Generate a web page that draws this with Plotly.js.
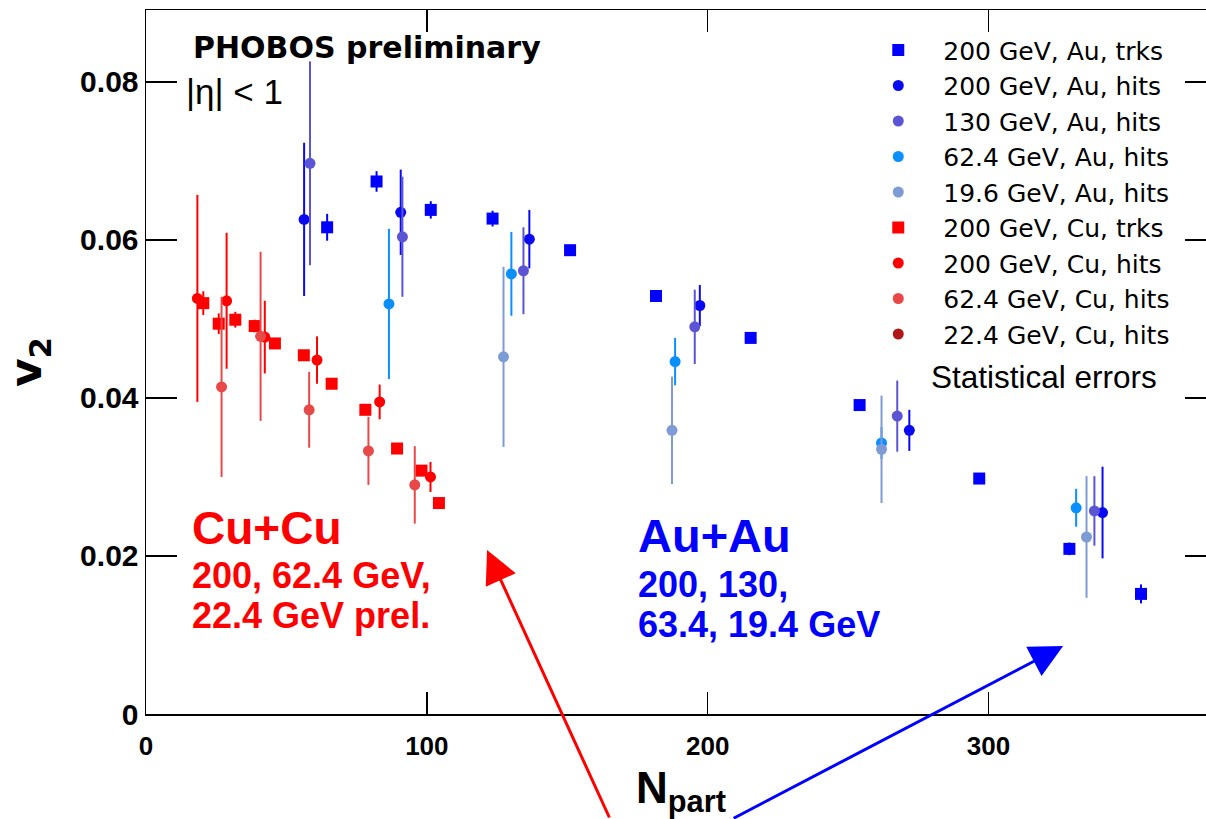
<!DOCTYPE html>
<html>
<head>
<meta charset="utf-8">
<script src="https://cdn.plot.ly/plotly-3.0.1.min.js"></script>
<style>
html,body{margin:0;padding:0;overflow:hidden;background:#fff;}
#chart{width:1220px;height:819px;}
</style>
</head>
<body>
<div id="chart"></div>
<script>
// ---- data ----
const seriesNames = ["200 GeV, Au, trks","200 GeV, Au, hits","130 GeV, Au, hits","62.4 GeV, Au, hits","19.6 GeV, Au, hits","200 GeV, Cu, trks","200 GeV, Cu, hits","62.4 GeV, Cu, hits","22.4 GeV, Cu, hits"];

const auTrksX = [64.5, 82.1, 101.4, 123.4, 151.0, 181.6, 215.3, 254.1, 296.7, 328.8, 354.3];
const auTrksY = [0.0616, 0.0674, 0.0638, 0.0627, 0.0587, 0.0529, 0.0476, 0.0391, 0.0298, 0.0209, 0.0152];
const auTrksE = [0.0017, 0.0013, 0.0011, 0.0010, 0.0005, 0.0004, 0.0004, 0.0004, 0.0005, 0.0008, 0.0012];

const au200HitsX = [56.3, 90.7, 136.5, 197.2, 271.8, 340.6];
const au200HitsY = [0.0626, 0.0635, 0.0601, 0.0517, 0.0359, 0.0255];
const au200HitsE = [0.0097, 0.0054, 0.0037, 0.0026, 0.0026, 0.0058];

const au130HitsX = [58.4, 91.3, 134.4, 195.4, 267.5, 337.7];
const au130HitsY = [0.0697, 0.0604, 0.0561, 0.0490, 0.0377, 0.0257];
const au130HitsE = [0.0129, 0.0076, 0.0055, 0.0047, 0.0045, 0.0044];

const au62HitsX = [86.5, 130.1, 188.4, 261.9, 331.2];
const au62HitsY = [0.0519, 0.0557, 0.0446, 0.0343, 0.0261];
const au62HitsE = [0.0095, 0.0053, 0.0030, 0.0020, 0.0024];

const au19HitsX = [127.3, 187.3, 261.9, 334.9];
const au19HitsY = [0.0452, 0.0359, 0.0335, 0.0224];
const au19HitsE = [0.0114, 0.0068, 0.0068, 0.0077];

const cuTrksX = [20.4, 25.9, 31.8, 38.7, 45.9, 56.2, 66.1, 78.1, 89.4, 98.1, 104.3];
const cuTrksY = [0.0520, 0.0494, 0.0499, 0.0491, 0.0469, 0.0454, 0.0418, 0.0385, 0.0336, 0.0308, 0.0267];
const cuTrksE = [0.0015, 0.0013, 0.0010, 0.0008, 0.0006, 0.0006, 0.0006, 0.0006, 0.0006, 0.0006, 0.0006];

const cu200HitsX = [18.3, 28.7, 42.3, 60.9, 83.2, 101.3];
const cu200HitsY = [0.0526, 0.0523, 0.0477, 0.0448, 0.0395, 0.0300];
const cu200HitsE = [0.0131, 0.0086, 0.0046, 0.0030, 0.0022, 0.0019];

const cu62HitsX = [26.9, 40.8, 58.1, 79.2, 95.7];
const cu62HitsY = [0.0414, 0.0478, 0.0385, 0.0333, 0.0290];
const cu62HitsE = [0.0114, 0.0107, 0.0048, 0.0043, 0.0049];

const cu22HitsX = [null];
const cu22HitsY = [null];
const cu22HitsE = [0];

const xTickVals = [0, 100, 200, 300];
const yTickVals = [0, 0.02, 0.04, 0.06, 0.08];
const yTickText = ["0", "0.02", "0.04", "0.06", "0.08"];

// ---- styles ----
const colors = ["#0000ff","#0a0af0","#5b55d6","#0a8fff","#7d9bd4","#ff0000","#ff0000","#e84848","#b01818"];
const symbols = ["square","circle","circle","circle","circle","square","circle","circle","circle"];
const sizes = [12,11,11,11,11,12,11,11,11];

const xs = [auTrksX, au200HitsX, au130HitsX, au62HitsX, au19HitsX, cuTrksX, cu200HitsX, cu62HitsX, cu22HitsX];
const ys = [auTrksY, au200HitsY, au130HitsY, au62HitsY, au19HitsY, cuTrksY, cu200HitsY, cu62HitsY, cu22HitsY];
const es = [auTrksE, au200HitsE, au130HitsE, au62HitsE, au19HitsE, cuTrksE, cu200HitsE, cu62HitsE, cu22HitsE];

const traces = seriesNames.map((n, i) => ({
  type: "scatter", mode: "markers", name: n,
  x: xs[i], y: ys[i],
  legendgroup: "g" + i,
  marker: {symbol: symbols[i], size: sizes[i], color: colors[i], line: {width: 0}},
  error_y: {type: "data", array: es[i], visible: true, thickness: 2, width: 0, color: colors[i]},
  cliponaxis: false
}));

const pxX = p => (p - 146) / 2.808;
const pxY = p => (714 - p) / 7901;

const annotations = [
  {text: "PHOBOS preliminary", x: pxX(191), y: pxY(48), xanchor: "left", yanchor: "middle", showarrow: false,
   font: {family: "DejaVu Sans", size: 30, color: "#000", weight: "bold"}},
  {text: "|η| < 1", x: pxX(184), y: pxY(92), xanchor: "left", yanchor: "middle", showarrow: false,
   font: {family: "Liberation Sans, Arial", size: 35, color: "#000"}},
  {text: "<b>Cu+Cu</b>", x: pxX(190), y: pxY(528), xanchor: "left", yanchor: "middle", showarrow: false,
   font: {family: "Liberation Sans, Arial", size: 46, color: "#ff0000"}},
  {text: "<b>200, 62.4 GeV,</b>", x: pxX(190), y: pxY(575), xanchor: "left", yanchor: "middle", showarrow: false,
   font: {family: "Liberation Sans, Arial", size: 36, color: "#ff0000"}},
  {text: "<b>22.4 GeV prel.</b>", x: pxX(190), y: pxY(615), xanchor: "left", yanchor: "middle", showarrow: false,
   font: {family: "Liberation Sans, Arial", size: 36, color: "#ff0000"}},
  {text: "<b>Au+Au</b>", x: pxX(636), y: pxY(536), xanchor: "left", yanchor: "middle", showarrow: false,
   font: {family: "Liberation Sans, Arial", size: 47, color: "#0000ff"}},
  {text: "<b>200, 130,</b>", x: pxX(636), y: pxY(584), xanchor: "left", yanchor: "middle", showarrow: false,
   font: {family: "Liberation Sans, Arial", size: 36, color: "#0000ff"}},
  {text: "<b>63.4, 19.4 GeV</b>", x: pxX(636), y: pxY(624), xanchor: "left", yanchor: "middle", showarrow: false,
   font: {family: "Liberation Sans, Arial", size: 36, color: "#0000ff"}},
  {text: "Statistical errors", x: pxX(929), y: pxY(377), xanchor: "left", yanchor: "middle", showarrow: false,
   font: {family: "Liberation Sans, Arial", size: 31.5, color: "#000"}},
  {text: "", x: pxX(487), y: pxY(550), showarrow: true, ax: 123, ay: 284,
   arrowhead: 2, arrowsize: 2.2, arrowwidth: 3, arrowcolor: "#ff0000"},
  {text: "", x: pxX(1063), y: pxY(646), showarrow: true, ax: -331, ay: 181,
   arrowhead: 2, arrowsize: 2.2, arrowwidth: 3, arrowcolor: "#0000ff"}
];

const layout = {
  width: 1220, height: 819,
  margin: {l: 146, r: 4, t: 10, b: 105},
  paper_bgcolor: "#fff", plot_bgcolor: "#fff",
  showlegend: true,
  legend: {x: 0.661, y: 0.9755, xanchor: "left", yanchor: "top", bgcolor: "rgba(0,0,0,0)",
           font: {family: "DejaVu Sans", size: 25, color: "#000"},
           itemwidth: 80, tracegroupgap: 4, traceorder: "normal", itemsizing: "trace"},
  xaxis: {range: [0, 381], tickvals: xTickVals, ticktext: xTickVals.map(String),
          ticks: "inside", ticklen: 22, tickwidth: 1.5, tickcolor: "#000",
          showline: true, linecolor: "#000", linewidth: 1.5, mirror: "ticks",
          showgrid: false, zeroline: false,
          tickfont: {family: "Liberation Sans, Arial", size: 26, color: "#000", weight: "bold"},
          ticklabelstandoff: 8,
          title: {text: "<b>N<sub>part</sub></b>", font: {family: "Liberation Sans, Arial", size: 44, color: "#000"}, standoff: 20}},
  yaxis: {range: [0, 0.0891], tickvals: yTickVals, ticktext: yTickText,
          ticks: "inside", ticklen: 31, tickwidth: 1.5, tickcolor: "#000",
          showline: true, linecolor: "#000", linewidth: 1.5, mirror: "ticks",
          showgrid: false, zeroline: false,
          tickfont: {family: "Liberation Sans, Arial", size: 30, color: "#000", weight: "bold"},
          ticklabelstandoff: 0,
          title: {text: "<b>v<sub>2</sub></b>", font: {family: "DejaVu Sans", size: 44, color: "#000"}, standoff: 24}},
  annotations: annotations
};

Plotly.newPlot("chart", traces, layout, {displayModeBar: false, staticPlot: true});
</script>
</body>
</html>
